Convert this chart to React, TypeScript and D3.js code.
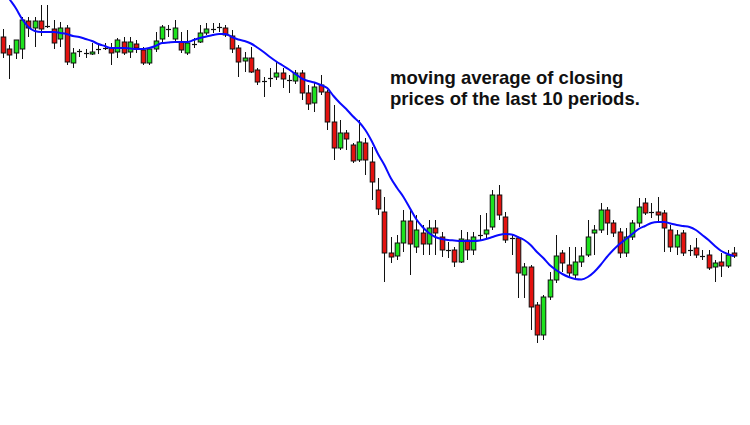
import React from "react";
import * as d3 from "d3";

const openP = [132.3,131.1,130.7,131.1,133.9,133.2,133.9,133.4,133.1,132.1,133.2,129.7,130.9,130.8,130.6,131.2,131.2,131.2,130.8,131.8,130.8,131.6,131.0,129.7,131.1,132.1,133.2,132.1,131.8,130.7,131.7,131.8,132.7,133.2,133.3,133.2,132.4,131.2,129.9,130.2,129.0,127.9,128.3,128.3,128.7,128.0,127.9,128.7,126.7,125.7,127.5,126.8,123.8,121.2,122.7,121.5,120.0,121.7,119.8,117.0,114.8,110.7,110.4,111.7,113.9,111.3,112.7,111.6,113.2,112.3,111.1,111.0,109.8,112.0,111.0,112.6,112.6,113.3,116.5,114.3,112.3,112.2,108.5,109.3,105.5,102.5,106.3,108.0,110.7,109.5,108.5,109.8,110.5,112.7,113.0,115.0,113.7,112.8,110.7,112.3,113.7,115.7,114.9,114.8,114.7,113.0,111.3,112.7,111.0,111.2,110.5,110.5,109.3,109.8,109.4,110.7];
const highP = [133.1,131.5,132.0,134.3,134.3,134.3,135.5,135.5,134.0,133.8,133.5,131.2,131.1,131.1,131.7,131.7,131.7,131.7,132.2,132.3,132.3,132.0,131.3,131.3,132.8,133.5,133.5,134.0,132.8,133.0,132.2,133.5,133.7,133.7,133.7,133.5,133.0,131.5,130.8,131.3,129.2,128.3,129.2,129.8,129.2,128.5,129.0,129.0,127.5,127.7,128.5,127.0,125.5,124.0,123.0,121.7,124.0,122.2,121.3,118.2,116.3,112.3,112.5,115.0,115.0,114.5,113.5,114.0,114.0,112.8,111.8,111.3,113.0,112.8,112.8,114.5,114.7,117.0,117.5,114.8,112.5,112.3,109.7,109.5,105.8,106.5,108.8,112.5,111.0,111.3,111.3,111.3,114.0,113.5,115.7,115.3,114.0,113.2,113.2,114.0,116.2,116.2,115.7,116.3,115.0,113.5,113.0,113.0,111.5,112.2,111.0,111.0,110.0,110.7,111.0,111.3];
const lowP = [130.2,128.1,130.1,130.1,132.3,131.3,132.4,133.2,131.1,131.3,129.5,129.2,130.3,130.2,130.5,130.6,131.0,129.5,130.2,130.5,130.2,130.7,129.5,129.5,130.8,131.8,132.3,131.8,130.7,130.5,131.2,131.7,132.5,132.7,132.8,132.3,130.7,128.3,128.8,128.7,127.5,126.3,127.3,128.0,127.2,126.7,127.6,126.0,125.0,124.8,126.5,123.0,120.0,121.0,121.0,119.7,119.8,118.5,116.0,114.5,107.8,109.7,110.0,110.8,108.5,110.7,110.5,110.5,110.5,110.3,110.2,109.3,109.7,110.0,110.5,112.0,112.2,113.0,114.0,111.7,110.5,106.2,106.2,103.0,101.7,102.0,106.0,107.7,108.8,108.2,108.2,109.3,110.3,110.5,112.7,112.5,112.3,110.2,110.3,112.0,113.3,114.5,114.2,113.8,110.8,110.8,110.5,110.4,110.4,110.2,110.0,109.0,107.8,108.3,109.2,110.2];
const closeP = [130.7,130.5,132.0,134.0,133.2,133.9,133.1,133.3,131.7,133.2,129.8,130.7,130.8,130.7,130.8,131.1,131.3,130.7,132.0,130.7,131.8,131.2,129.7,131.1,131.9,133.3,133.1,133.2,131.0,131.7,131.6,132.7,133.1,133.1,133.2,132.5,131.1,129.8,130.2,128.8,127.8,127.8,128.2,128.7,128.1,127.9,128.7,126.7,125.6,127.3,126.8,123.8,121.2,122.7,122.1,119.9,121.8,120.0,117.8,115.1,110.7,110.3,111.7,113.9,111.6,113.0,111.6,113.2,112.7,111.0,111.0,109.8,112.1,111.0,112.3,112.5,113.0,116.5,114.5,112.0,112.2,108.7,109.3,105.3,102.5,106.3,108.0,110.4,109.7,108.7,109.8,110.4,112.3,113.0,115.0,113.7,112.7,110.7,112.3,113.7,115.3,114.7,114.8,114.5,113.2,111.3,112.5,110.7,110.9,110.5,110.4,109.2,109.7,109.4,110.5,110.4];
const maP = [137.0,136.1,135.2,134.1,133.3,132.9,132.8,132.8,132.8,132.7,132.6,132.4,132.3,132.1,131.9,131.6,131.4,131.2,131.2,131.2,131.15,131.1,131.1,131.2,131.4,131.7,131.75,131.8,131.8,131.8,132.0,132.2,132.35,132.5,132.6,132.6,132.3,132.05,131.9,131.65,131.25,130.8,130.3,129.85,129.45,129.05,128.6,128.15,127.9,127.75,127.5,127.2,126.4,125.7,125.1,124.4,123.8,123.0,121.9,120.6,119.5,118.2,117.2,116.3,115.2,114.1,113.3,112.7,112.3,112.1,112.0,111.95,111.9,111.9,111.9,111.95,112.1,112.3,112.5,112.6,112.55,112.3,112.0,111.5,110.8,110.2,109.5,109.0,108.6,108.3,108.1,108.05,108.3,108.8,109.5,110.3,111.0,111.6,112.1,112.6,113.1,113.4,113.7,113.8,113.8,113.65,113.5,113.4,113.3,113.0,112.5,112.0,111.4,110.9,110.6,110.4];
const noteLines = ["moving average of closing", "prices of the last 10 periods."];

const W = 750;
const H = 425;

export default function App() {
  const n = openP.length;
  const x = d3.scaleLinear().domain([0, n - 1]).range([3, 734]);
  const y = d3.scaleLinear().domain([136, 93.5]).range([0, H]);
  const bodyW = 4.6;
  const line = d3
    .line<number>()
    .x((_, i) => x(i))
    .y((d) => y(d))
    .curve(d3.curveMonotoneX);

  return (
    <svg
      width={W}
      height={H}
      style={{ position: "absolute", left: 0, top: 0, background: "#fff" }}
    >
      <rect x={0} y={0} width={W} height={H} fill="#fff" />
      {openP.map((o, i) => {
        const c = closeP[i];
        const cx = Math.round(x(i)) + 0.5;
        const top = y(Math.max(o, c));
        const bot = y(Math.min(o, c));
        const up = c > o;
        const doji = Math.abs(c - o) < 0.15;
        return (
          <g key={i}>
            <line
              x1={cx}
              x2={cx}
              y1={y(highP[i])}
              y2={y(lowP[i])}
              stroke="#111"
              strokeWidth={1}
            />
            {doji ? (
              <line
                x1={cx - 2.5}
                x2={cx + 2.5}
                y1={Math.round((top + bot) / 2) + 0.5}
                y2={Math.round((top + bot) / 2) + 0.5}
                stroke="#111"
                strokeWidth={1.2}
              />
            ) : (
              <rect
                x={cx - bodyW / 2}
                y={top}
                width={bodyW}
                height={Math.max(1, bot - top)}
                fill={up ? "#1de21d" : "#e3120f"}
                stroke="#111"
                strokeWidth={1}
              />
            )}
          </g>
        );
      })}
      <path d={line(maP) || ""} fill="none" stroke="#0a0aff" strokeWidth={2} />
      {noteLines.map((t, i) => (
        <text
          key={i}
          x={390}
          y={84 + i * 21}
          fontFamily="'Liberation Sans', Arial, sans-serif"
          fontWeight="bold"
          fontSize={18.5}
          fill="#111"
        >
          {t}
        </text>
      ))}
    </svg>
  );
}
